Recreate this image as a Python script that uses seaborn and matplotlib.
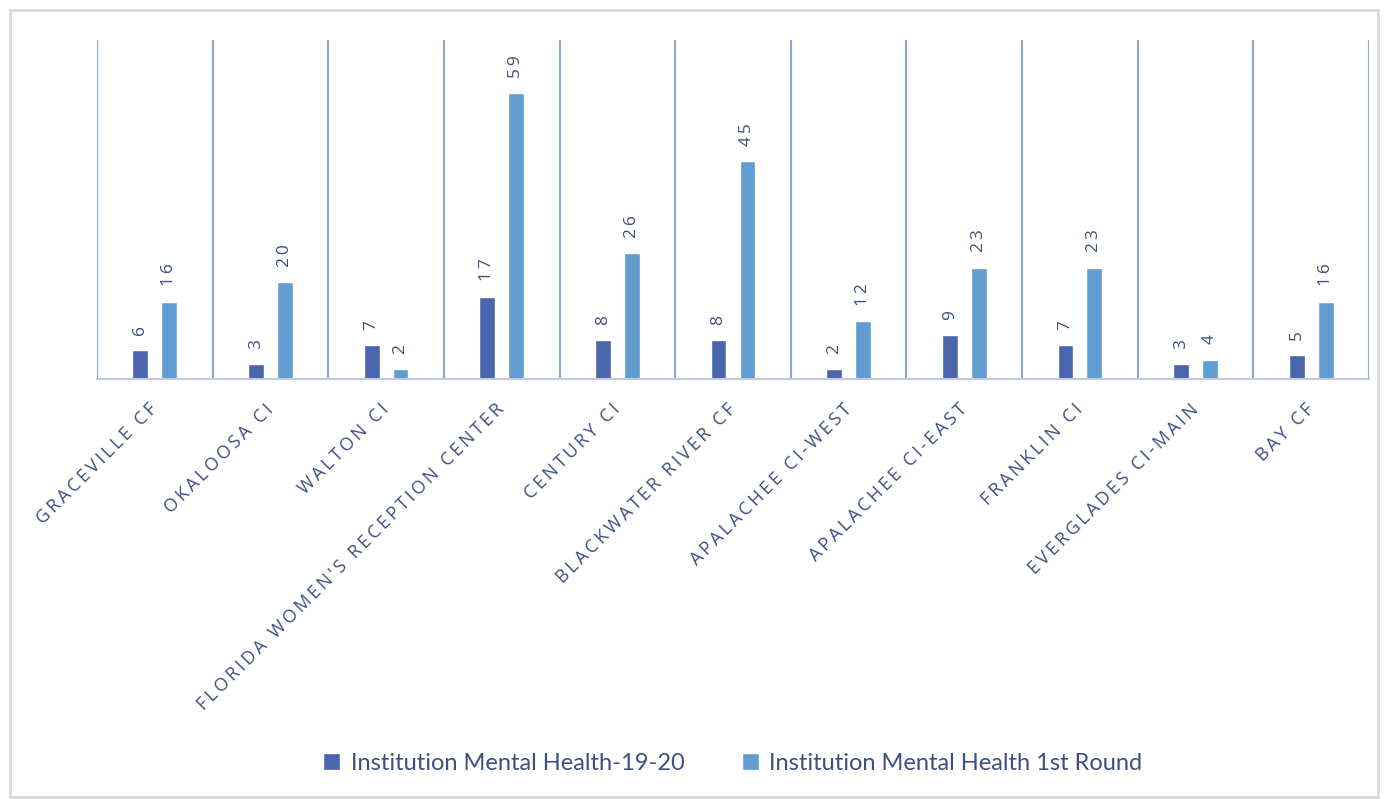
import matplotlib
matplotlib.use("Agg")
import matplotlib.pyplot as plt
import seaborn as sns
import pandas as pd
import numpy as np
from matplotlib.patches import Rectangle

categories = ["GRACEVILLE CF", "OKALOOSA CI", "WALTON CI",
              "FLORIDA WOMEN'S RECEPTION CENTER", "CENTURY CI",
              "BLACKWATER RIVER CF", "APALACHEE CI-WEST", "APALACHEE CI-EAST",
              "FRANKLIN CI", "EVERGLADES CI-MAIN", "BAY CF"]
series_names = ["Institution Mental Health-19-20", "Institution Mental Health 1st Round"]
values_1920 = [6, 3, 7, 17, 8, 8, 2, 9, 7, 3, 5]
values_1st = [16, 20, 2, 59, 26, 45, 12, 23, 23, 4, 16]
colors = ["#4A65AC", "#629DD1"]

text_color = "#3E4F82"

df = pd.DataFrame({
    "category": categories * 2,
    "series": [series_names[0]] * len(categories) + [series_names[1]] * len(categories),
    "value": values_1920 + values_1st,
})

sns.set_theme(style="white")
plt.rcParams["font.family"] = ["Open Sans", "DejaVu Sans"]

fig = plt.figure(figsize=(13.88, 7.99), dpi=100)
ax = fig.add_axes([97 / 1388, 1 - 379 / 799, (1369 - 97) / 1388, (379 - 40) / 799])

sns.barplot(data=df, x="category", y="value", hue="series", hue_order=series_names,
            order=categories, palette=colors, width=0.5, gap=0.45, ax=ax,
            legend=True, errorbar=None, saturation=1)

for cont in ax.containers:
    labels = ["\u2009".join(str(int(v))) for v in cont.datavalues]
    ax.bar_label(cont, labels=labels, rotation=90, padding=11, fontsize=12.5,
                 color=text_color, family=["Open Sans", "DejaVu Sans"])

ax.set_ylim(0, 70)
ax.set_xlim(-0.5, len(categories) - 0.5)
ax.set_yticks([])
ax.set_xlabel("")
ax.set_ylabel("")
ax.set_xticks(np.arange(-0.5, len(categories), 1), minor=True)
ax.grid(which="minor", axis="x", color="#8EA5D6", linewidth=1.5)
ax.tick_params(axis="x", which="both", length=0)
for s in ["top", "left", "right"]:
    ax.spines[s].set_visible(False)
ax.spines["bottom"].set_color("#C3CADF")
ax.spines["bottom"].set_linewidth(1.5)

spaced = ["\u2009".join(list(c)) for c in categories]
ax.set_xticks(range(len(categories)))
ax.set_xticklabels(spaced, rotation=45, ha="right", va="center", rotation_mode="anchor",
                   fontsize=13, color=text_color, family=["Open Sans", "DejaVu Sans"])
ax.tick_params(axis="x", pad=20)

leg = ax.legend(loc="center", ncol=2,
                frameon=False, handlelength=0.7, handleheight=0.7, columnspacing=2.45,
                handletextpad=0.45, prop={"family": "Lato", "size": 17})
for t in leg.get_texts():
    t.set_color(text_color)
leg.set_bbox_to_anchor((0.5, -(763 - 379) / (379 - 40)), transform=ax.transAxes)

fig.patches.append(Rectangle((10 / 1388, 1 - 797 / 799), 1368 / 1388, 787 / 799,
                             transform=fig.transFigure, fill=False,
                             edgecolor="#D9D9D9", linewidth=2))

fig.savefig("out.png", dpi=100)
